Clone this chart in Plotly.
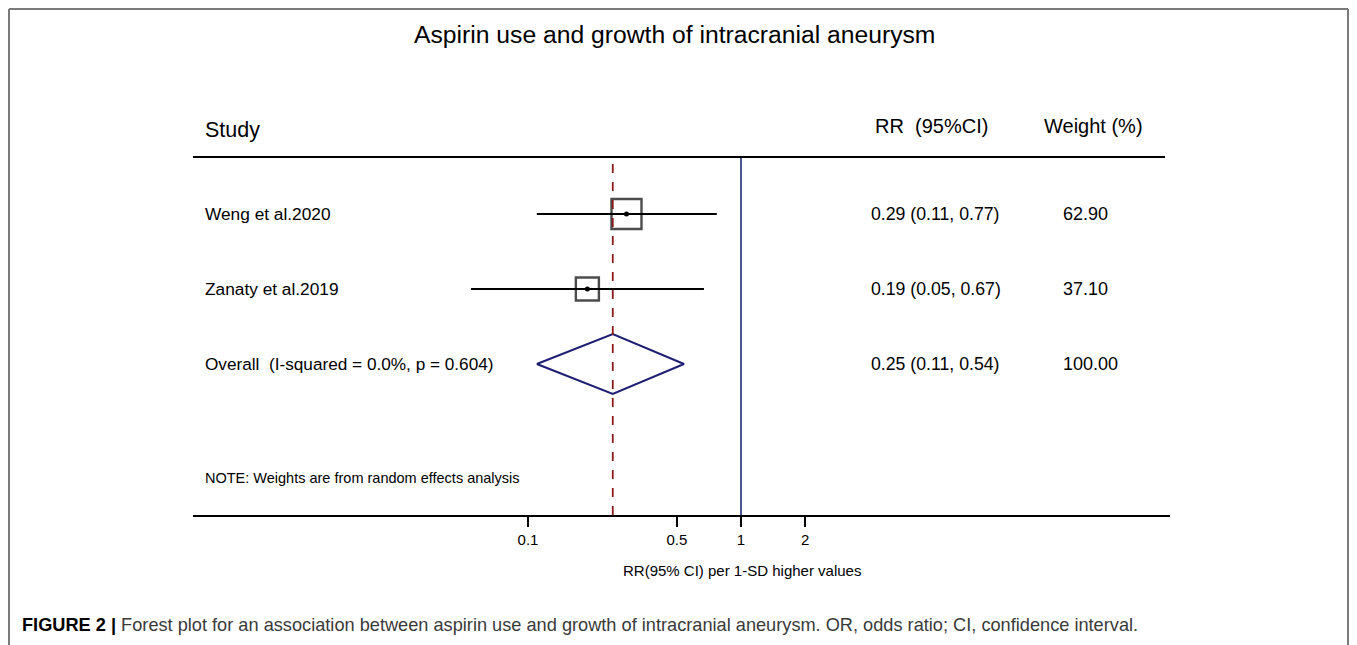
import math
import plotly.graph_objects as go

# ---------------- data ----------------
studies = ["Weng et al.2020", "Zanaty et al.2019"]
rr = [0.29, 0.19]
ci_low = [0.11, 0.054]
ci_high = [0.77, 0.67]
weights = [62.90, 37.10]
rr_text = ["0.29 (0.11, 0.77)", "0.19 (0.05, 0.67)"]
weight_text = ["62.90", "37.10"]

overall_label = "Overall  (I-squared = 0.0%, p = 0.604)"
overall_rr = 0.25
overall_low = 0.11
overall_high = 0.54
overall_text = "0.25 (0.11, 0.54)"
overall_weight_text = "100.00"

tick_vals = [0.1, 0.5, 1, 2]
tick_labels = ["0.1", "0.5", "1", "2"]

# ---------------- layout helpers (screen px; page body has 8px margin) ----------------
OFF = 8
W, H = 1357 - OFF, 645 - OFF
L, R, T, B = 193, 1170, 157, 515          # plot-area edges in screen px
X_PX_PER_DECADE = 213
X_ONE_PX = 741
ROW0_PX, ROW_STEP = 214, 75


def px(xp):
    return (xp - L) / (R - L)


def py(yp):
    return (B - yp) / (B - T)


FONT = "Liberation Sans, Arial, sans-serif"

fig = go.Figure()

rows = list(range(len(studies)))
overall_row = len(studies)

# CI lines
for i in rows:
    fig.add_trace(go.Scatter(
        x=[ci_low[i], ci_high[i]], y=[i, i], mode="lines",
        line=dict(color="black", width=1.9), hoverinfo="skip", showlegend=False))

# weight squares
k = 30 / math.sqrt(max(weights))
fig.add_trace(go.Scatter(
    x=rr, y=rows, mode="markers",
    marker=dict(symbol="square-open", size=[k * math.sqrt(w) for w in weights],
                color="black", line=dict(color="black", width=2.4)),
    hoverinfo="skip", showlegend=False))
fig.add_trace(go.Scatter(
    x=rr, y=rows, mode="markers",
    marker=dict(symbol="circle", size=5, color="black"),
    hoverinfo="skip", showlegend=False))

# overall diamond
dh = 0.4
fig.add_trace(go.Scatter(
    x=[overall_low, overall_rr, overall_high, overall_rr, overall_low],
    y=[overall_row, overall_row - dh, overall_row, overall_row + dh, overall_row],
    mode="lines", line=dict(color="#1c1f72", width=2),
    hoverinfo="skip", showlegend=False))

# vertical reference lines
fig.add_shape(type="line", xref="x", yref="paper", x0=1, x1=1, y0=0, y1=1,
              line=dict(color="#1c2a78", width=1.6))
fig.add_shape(type="line", xref="x", yref="paper", x0=overall_rr, x1=overall_rr, y0=0, y1=1,
              line=dict(color="#8b1a1a", width=1.8, dash="dash"))

# top header rule
fig.add_shape(type="line", xref="paper", yref="paper", x0=px(193), x1=px(1165), y0=1, y1=1,
              line=dict(color="black", width=2))

# outer border (left, top, right)
bc = dict(color="#7a7a7a", width=2)
fig.add_shape(type="line", xref="paper", yref="paper", x0=px(9), x1=px(9), y0=py(9), y1=py(660), line=bc)
fig.add_shape(type="line", xref="paper", yref="paper", x0=px(9), x1=px(1348), y0=py(9), y1=py(9), line=bc)
fig.add_shape(type="line", xref="paper", yref="paper", x0=px(1348), x1=px(1348), y0=py(9), y1=py(660), line=bc)

ann = []


def text(x, y, s, size, anchor="left", color="black", yref="paper"):
    ann.append(dict(x=x, y=y, xref="paper", yref=yref, text=s, showarrow=False,
                    xanchor=anchor, yanchor="middle",
                    font=dict(family=FONT, size=size, color=color)))


# title and headers
text(px(674), py(34), "Aspirin use and growth of intracranial aneurysm", 24.7, "center")
text(px(203), py(130), "Study", 21.5)
text(px(873), py(126), "RR  (95%CI)", 20)
text(px(1042), py(126), "Weight (%)", 20)

# rows
for i in rows:
    text(px(203), i, studies[i], 17.3, yref="y")
    text(px(869), i, rr_text[i], 17.7, yref="y")
    text(px(1061), i, weight_text[i], 18, yref="y")
text(px(203), overall_row, overall_label, 17.2, yref="y")
text(px(869), overall_row, overall_text, 17.7, yref="y")
text(px(1061), overall_row, overall_weight_text, 18, yref="y")

text(px(203), py(478), "NOTE: Weights are from random effects analysis", 14.5)
text(px(742), py(570), "RR(95% CI) per 1-SD higher values", 15, "center")

# caption
text(px(20), py(625),
     "<b>FIGURE 2 |</b> <span style='color:#3a3a3a'>Forest plot for an association between aspirin use and "
     "growth of intracranial aneurysm. OR, odds ratio; CI, confidence interval.</span>",
     18.2)

fig.update_layout(
    width=W, height=H,
    margin=dict(l=L - OFF, r=W - (R - OFF), t=T - OFF, b=H - (B - OFF), pad=0),
    paper_bgcolor="white", plot_bgcolor="white",
    annotations=ann,
    xaxis=dict(type="log",
               range=[(L - X_ONE_PX) / X_PX_PER_DECADE, (R - X_ONE_PX) / X_PX_PER_DECADE],
               tickvals=tick_vals, ticktext=tick_labels,
               ticks="outside", ticklen=10, tickwidth=2, tickcolor="black",
               showline=True, linecolor="black", linewidth=2,
               showgrid=False, zeroline=False,
               tickfont=dict(family=FONT, size=15, color="black")),
    yaxis=dict(range=[(B - ROW0_PX) / ROW_STEP, (T - ROW0_PX) / ROW_STEP],
               showticklabels=False, showgrid=False, zeroline=False, showline=False,
               ticks=""),
    showlegend=False,
)

fig.write_html("out.html")
